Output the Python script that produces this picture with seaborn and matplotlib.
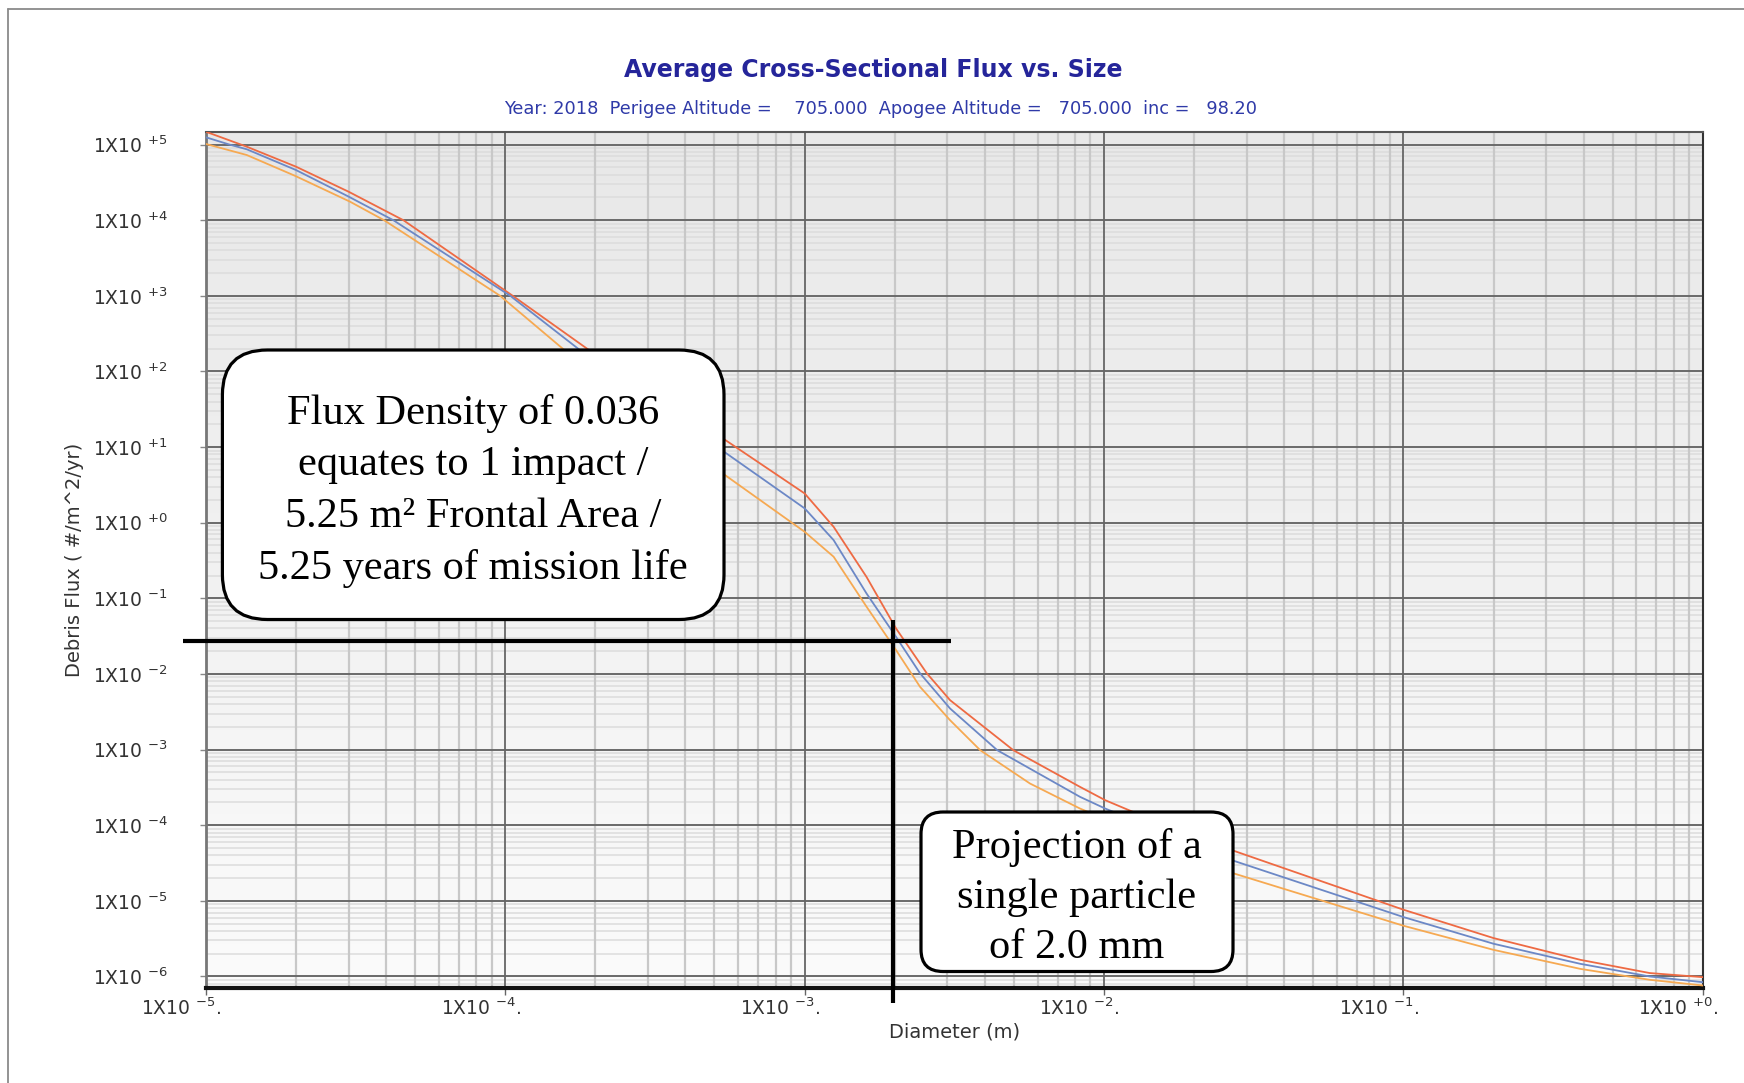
import numpy as np
import pandas as pd
import matplotlib
matplotlib.use("Agg")
import matplotlib.pyplot as plt
import seaborn as sns
from matplotlib.patches import FancyBboxPatch
from matplotlib.lines import Line2D
from matplotlib.transforms import IdentityTransform, ScaledTranslation
from matplotlib.ticker import FixedLocator, LogLocator, NullFormatter, FuncFormatter
from matplotlib.colors import LinearSegmentedColormap

# ---------------- data ----------------
red_diam = [1.0e-5, 1.37e-5, 2.0e-5, 3.0e-5, 4.57e-5, 1.06e-4, 1.91e-4, 3.16e-4, 5.37e-4,
            1.0e-3, 1.25e-3, 1.61e-3, 2.02e-3, 2.56e-3, 3.06e-3, 4.98e-3, 8.32e-3,
            1.01e-2, 1.25e-2, 2.68e-2, 0.1, 0.2, 0.39, 0.665, 1.0]
red_flux = [1.48e5, 9.38e4, 5.11e4, 2.38e4, 1.0e4, 1.0e3, 190.5, 52.5, 12.8,
            2.44, 0.883, 0.192, 0.040, 0.0102, 4.51e-3, 9.82e-4, 3.21e-4,
            2.14e-4, 1.50e-4, 4.67e-5, 7.64e-6, 3.22e-6, 1.66e-6, 1.11e-6, 9.8e-7]

blue_diam = [1.0e-5, 1.20e-5, 1.37e-5, 2.0e-5, 3.0e-5, 4.23e-5, 1.04e-4, 1.78e-4, 3.16e-4,
             5.42e-4, 1.0e-3, 1.25e-3, 1.61e-3, 2.02e-3, 2.43e-3, 3.06e-3, 4.40e-3, 8.32e-3,
             1.01e-2, 2.68e-2, 0.1, 0.2, 0.39, 0.665, 1.0]
blue_flux = [1.25e5, 1.0e5, 8.67e4, 4.61e4, 2.05e4, 1.0e4, 1.0e3, 190.5, 38.0,
             8.51, 1.55, 0.589, 0.116, 0.031, 0.0102, 3.50e-3, 9.82e-4, 2.37e-4,
             1.66e-4, 3.44e-5, 6.11e-6, 2.71e-6, 1.47e-6, 1.0e-6, 8.4e-7]

orange_diam = [1.0e-5, 1.37e-5, 1.99e-5, 3.03e-5, 3.94e-5, 9.62e-5, 1.58e-4, 3.16e-4, 5.42e-4,
               1.0e-3, 1.25e-3, 1.61e-3, 2.02e-3, 2.43e-3, 3.06e-3, 3.86e-3, 5.66e-3, 8.32e-3,
               2.68e-2, 0.1, 0.2, 0.39, 0.665, 1.0]
orange_flux = [1.02e5, 7.28e4, 3.85e4, 1.76e4, 1.0e4, 1.0e3, 190.5, 22.4, 4.27,
               0.759, 0.355, 0.0776, 0.0207, 6.76e-3, 2.45e-3, 9.82e-4, 3.56e-4, 1.66e-4,
               2.34e-5, 4.69e-6, 2.25e-6, 1.26e-6, 9.04e-7, 7.6e-7]

series_names = ["red", "blue", "orange"]
series_colors = {"red": "#ee6a43", "blue": "#6c88c6", "orange": "#f6a952"}

y_exponents = [-6, -5, -4, -3, -2, -1, 0, 1, 2, 3, 4, 5]
x_exponents = [-5, -4, -3, -2, -1, 0]

title_text = "Average Cross-Sectional Flux vs. Size"
subtitle_text = "Year: 2018  Perigee Altitude =    705.000  Apogee Altitude =   705.000  inc =   98.20"
x_label = "Diameter (m)"
y_label = "Debris Flux ( #/m^2/yr)"

marker_flux = 0.027      # horizontal reference line
marker_diam = 1.97e-3    # vertical reference line (2.0 mm)
hline_x = (8.4e-6, 3.08e-3)
vline_y = (4.5e-7, 0.0515)

box1_lines = ["Flux Density of 0.036", "equates to 1 impact /",
              "5.25 m\u00b2 Frontal Area /", "5.25 years of mission life"]
box2_lines = ["Projection of a", "single particle", "of 2.0 mm"]

# ---------------- figure ----------------
sns.set_theme(style="white")
plt.rcParams["font.family"] = ["DejaVu Sans"]
plt.rcParams["mathtext.fontset"] = "dejavusans"

W, H = 1744, 1083
fig = plt.figure(figsize=(W / 100, H / 100), dpi=100)
fig.patch.set_facecolor("white")

ax_left, ax_right, ax_top, ax_bot = 205.8, 1702.8, 131.5, 987.6
pos = [ax_left / W, 1 - ax_bot / H, (ax_right - ax_left) / W, (ax_bot - ax_top) / H]

bg = fig.add_axes(pos, zorder=0)
grad = LinearSegmentedColormap.from_list("g", ["#e8e8e8", "#f1f1f1", "#fbfbfb"])
bg.imshow(np.linspace(0, 1, 256).reshape(-1, 1), cmap=grad, aspect="auto",
          extent=[0, 1, 0, 1], origin="upper")
bg.axis("off")

ax = fig.add_axes(pos, zorder=1)
ax.patch.set_alpha(0)

frames = []
for name, d, f in [("red", red_diam, red_flux), ("blue", blue_diam, blue_flux),
                   ("orange", orange_diam, orange_flux)]:
    frames.append(pd.DataFrame({"diameter": d, "flux": f, "series": name}))
df = pd.concat(frames, ignore_index=True)

sns.lineplot(data=df, x="diameter", y="flux", hue="series", hue_order=series_names,
             palette=series_colors, estimator=None, sort=False, legend=False,
             linewidth=1.3, ax=ax, zorder=3)

ax.set_xscale("log")
ax.set_yscale("log")
xlo, xhi = 1e-5, 1.0
ylo, yhi = 10 ** -6.147, 10 ** 5.173
ax.set_xlim(xlo, xhi)
ax.set_ylim(ylo, yhi)

ax.yaxis.set_major_locator(FixedLocator([10.0 ** e for e in y_exponents]))
ax.xaxis.set_major_locator(FixedLocator([10.0 ** e for e in x_exponents]))
ax.xaxis.set_minor_locator(LogLocator(base=10, subs=np.arange(2, 10)))
ax.yaxis.set_minor_locator(LogLocator(base=10, subs=np.arange(2, 10), numticks=30))
ax.xaxis.set_minor_formatter(NullFormatter())
ax.yaxis.set_minor_formatter(NullFormatter())


def ylab(v, p):
    e = int(round(np.log10(v)))
    return "1X10 $^{%+d}$" % e


def xlab(v, p):
    e = int(round(np.log10(v)))
    return "1X10 $^{%+d}$." % e


ax.yaxis.set_major_formatter(FuncFormatter(ylab))
ax.xaxis.set_major_formatter(FuncFormatter(xlab))

ax.tick_params(axis="y", which="major", length=4, width=1, color="#888888",
               pad=23, labelsize=13.5, labelcolor="#333333", left=True)
ax.tick_params(axis="x", which="major", length=5, width=1, color="#666666",
               pad=2, labelsize=13.5, labelcolor="#333333", bottom=True)
ax.tick_params(which="minor", length=0)
ax.grid(False)

# gridlines drawn in order: light minor first, dark major on top
ymin_locs = [v for v in ax.yaxis.get_minorticklocs() if ylo < v < yhi]
xmin_locs = [v for v in ax.xaxis.get_minorticklocs() if xlo < v < xhi]
for v in ymin_locs:
    ax.axhline(v, color="#dcdcdc", lw=1.1, zorder=0.5)
for v in xmin_locs:
    ax.axvline(v, color="#c8c8c8", lw=1.6, zorder=0.6)
for e in y_exponents:
    ax.axhline(10.0 ** e, color="#6a6a6a", lw=1.4, zorder=0.7)
for e in x_exponents:
    ax.axvline(10.0 ** e, color="#666666", lw=1.3, zorder=0.8)

for side, col, lw in [("left", "#777777", 2.0), ("bottom", "#111111", 3.0),
                      ("top", "#555555", 1.5), ("right", "#333333", 1.5)]:
    ax.spines[side].set_visible(True)
    ax.spines[side].set_color(col)
    ax.spines[side].set_linewidth(lw)

# shift x tick labels so they end just right of the tick
offset = ScaledTranslation(16 / 100, 0, fig.dpi_scale_trans)
for lab in ax.get_xticklabels():
    lab.set_horizontalalignment("right")
    lab.set_transform(lab.get_transform() + offset)

ax.set_xlabel(x_label, fontsize=14, color="#333333")
ax.set_ylabel(y_label, fontsize=14, color="#333333")
ax.xaxis.set_label_coords(0.5, (ax_bot - 1032) / (ax_bot - ax_top))
ax.xaxis.label.set_va("center")
ax.yaxis.set_label_coords((74 - ax_left) / (ax_right - ax_left), 0.5)
ax.yaxis.label.set_va("center")

# reference lines
ax.plot(list(hline_x), [marker_flux, marker_flux], color="black", lw=3,
        clip_on=False, zorder=6, solid_capstyle="butt")
ax.plot([marker_diam, marker_diam], list(vline_y), color="black", lw=3,
        clip_on=False, zorder=6, solid_capstyle="butt")

# titles
fig.text(873 / W, 1 - 70 / H, title_text, ha="center", va="center", fontsize=17,
         fontweight="bold", color="#25259a")
fig.text(881 / W, 1 - 109 / H, subtitle_text, ha="center", va="center", fontsize=12.8,
         color="#2f3aa8")

# annotation boxes (pixel coordinates)
ident = IdentityTransform()


def add_box(x0, y0, x1, y1, r, lines, spacing, shift):
    patch = FancyBboxPatch((x0, H - y1), x1 - x0, y1 - y0,
                           boxstyle="round,pad=0,rounding_size=%g" % r,
                           transform=ident, facecolor="white", edgecolor="black",
                           linewidth=2.3, zorder=8)
    fig.add_artist(patch)
    cx = (x0 + x1) / 2
    cy = (y0 + y1) / 2 + shift
    n = len(lines)
    for i, s in enumerate(lines):
        yy = cy + (i - (n - 1) / 2) * spacing
        fig.text(cx, H - yy, s, transform=ident, ha="center", va="center",
                 fontsize=30.5, family=["Liberation Serif"], color="black", zorder=9)


add_box(222.4, 350, 724, 619.5, 45, box1_lines, 51.7, 6)
add_box(921, 812, 1233, 971.5, 22, box2_lines, 50, 6)

# screenshot frame lines
fig.add_artist(Line2D([8, W], [H - 9, H - 9], transform=ident, color="#8a8a8a", lw=1.3))
fig.add_artist(Line2D([8, 8], [0, H - 9], transform=ident, color="#8a8a8a", lw=1.3))

fig.savefig("out.png", dpi=100, facecolor="white")
